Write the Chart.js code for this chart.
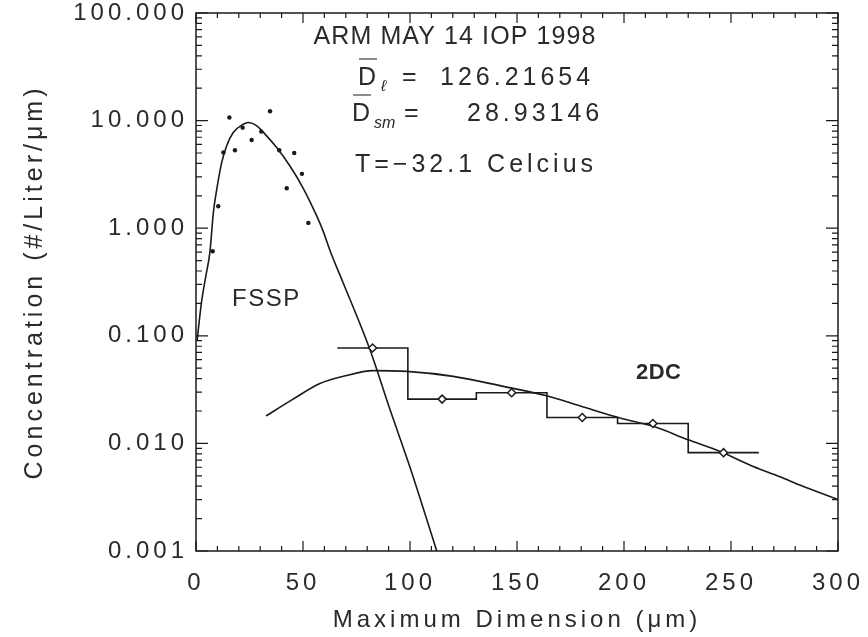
<!DOCTYPE html>
<html>
<head>
<meta charset="utf-8">
<script src="https://cdn.jsdelivr.net/npm/chart.js@4.4.0/dist/chart.umd.min.js"></script>
<style>
  html, body { margin: 0; padding: 0; background: #fff; }
  #wrap { width: 868px; height: 637px; }
</style>
</head>
<body>
<div id="wrap"><canvas id="myChart"></canvas></div>
<script>
// FSSP fitted curve
const fsspCurveX = [0.5, 2.5, 4.5, 6.5, 8.1, 9.7, 12.0, 14.3, 17.4, 22.1, 24.4, 28.4, 33.0, 37.7, 43.9, 50.1, 56.4, 59.5, 62.6, 68.8, 81.3, 90.7, 100, 112.5];
const fsspCurveY = [0.09, 0.2, 0.35, 0.6, 1.39, 2.3, 4.07, 5.81, 7.74, 9.25, 9.6, 8.93, 7.21, 5.61, 3.78, 2.35, 1.3, 0.93, 0.62, 0.31, 0.0743, 0.0205, 0.006, 0.001];

// FSSP measured points
const fsspDotX = [7.8, 10.4, 12.8, 15.6, 18.2, 21.8, 26.0, 30.5, 34.6, 38.9, 42.4, 45.9, 49.5, 52.5];
const fsspDotY = [0.61, 1.6, 5.05, 10.7, 5.3, 8.6, 6.6, 7.9, 12.2, 5.3, 2.35, 5.0, 3.2, 1.12];

// 2DC fitted curve
const dcCurveX = [32.7, 45, 57.9, 68.8, 82.9, 98.5, 120.2, 143.6, 163.9, 180, 198.1, 213.7, 230, 244.9, 260.4, 272.9, 282.2, 300];
const dcCurveY = [0.018, 0.0255, 0.036, 0.042, 0.0475, 0.0467, 0.042, 0.0339, 0.0277, 0.0221, 0.0172, 0.0144, 0.0108, 0.0084, 0.0061, 0.0049, 0.0041, 0.003];

// 2DC histogram: bin edges and concentration per bin
const dcBinEdges = [66, 99, 131, 164, 197, 230, 263];
const dcBinValues = [0.0771, 0.0258, 0.0296, 0.0174, 0.0153, 0.0082];

// axis ticks
const xTicks = [0, 50, 100, 150, 200, 250, 300];
const yTicks = [0.001, 0.01, 0.1, 1, 10, 100];

const ink = '#1a1a1a';
const textInk = '#2a2a2a';
const face = '"Liberation Sans", Arial, sans-serif';

const zip = (xs, ys) => xs.map((x, i) => ({ x: x, y: ys[i] }));
const stairs = dcBinEdges.map((e, i) => ({ x: e, y: dcBinValues[Math.min(i, dcBinValues.length - 1)] }));
const diamonds = dcBinValues.map((v, i) => ({ x: (dcBinEdges[i] + dcBinEdges[i + 1]) / 2, y: v }));

// box, inward ticks and the text notes
const frame = {
  id: 'frame',
  beforeDraw(chart) {
    chart.ctx.letterSpacing = '4px';
  },
  afterDraw(chart) {
    const ctx = chart.ctx, a = chart.chartArea;
    const xs = chart.scales.x, ys = chart.scales.y;
    ctx.save();
    ctx.strokeStyle = ink;
    ctx.lineWidth = 1.5;
    ctx.strokeRect(a.left, a.top, a.right - a.left, a.bottom - a.top);

    ctx.lineWidth = 1.2;
    ctx.beginPath();
    for (let v = xTicks[0]; v <= xTicks[xTicks.length - 1]; v += 10) {
      const px = xs.getPixelForValue(v);
      const len = v % 50 === 0 ? 10 : 5;
      ctx.moveTo(px, a.bottom); ctx.lineTo(px, a.bottom - len);
      ctx.moveTo(px, a.top); ctx.lineTo(px, a.top + len);
    }
    yTicks.forEach(d => {
      for (let k = 1; k <= 9; k++) {
        if (d * k > yTicks[yTicks.length - 1] + 1e-9) break;
        const py = ys.getPixelForValue(d * k);
        const len = k === 1 ? 12 : 6;
        ctx.moveTo(a.left, py); ctx.lineTo(a.left + len, py);
        ctx.moveTo(a.right, py); ctx.lineTo(a.right - len, py);
      }
    });
    ctx.stroke();

    ctx.fillStyle = textInk;
    ctx.textBaseline = 'middle';
    const put = (t, x, y, size, ls, style) => {
      ctx.font = (style || '') + ' ' + size + 'px ' + face;
      ctx.letterSpacing = ls + 'px';
      ctx.fillText(t, x, y);
    };
    ctx.textAlign = 'center';
    put('ARM MAY 14 IOP 1998', 455, 37, 25, 1.1);
    ctx.textAlign = 'left';
    put('D', 358, 78, 25, 0);
    put('ℓ', 381, 87, 16, 0, 'italic');
    put('=', 402, 78, 25, 0);
    put('126.21654', 440, 78, 25, 4);
    put('D', 352, 114, 25, 0);
    put('sm', 374, 124, 16, 0, 'italic');
    put('=', 404, 114, 25, 0);
    put('28.93146', 467, 114, 25, 4);
    put('T=\u221232.1 Celcius', 355, 165, 25, 4);
    put('FSSP', 232, 299, 24, 1.5);
    put('2DC', 636, 373, 22, 0.5, 'bold');

    // bars over the D's
    ctx.lineWidth = 1.2;
    ctx.beginPath();
    ctx.moveTo(359, 59); ctx.lineTo(377, 59);
    ctx.moveTo(353, 95); ctx.lineTo(371, 95);
    ctx.stroke();
    ctx.restore();
  }
};

const ctx = document.getElementById('myChart').getContext('2d');
const myChart = new Chart(ctx, {
  type: 'line',
  data: {
    datasets: [
      {
        label: '2DC bins',
        data: diamonds,
        showLine: false,
        pointStyle: 'rectRot',
        pointRadius: 4,
        pointBackgroundColor: '#fff',
        pointBorderColor: ink,
        pointBorderWidth: 1.5
      },
      {
        label: 'FSSP data',
        data: zip(fsspDotX, fsspDotY),
        showLine: false,
        pointRadius: 2.2,
        pointBackgroundColor: ink,
        pointBorderWidth: 0
      },
      {
        label: '2DC histogram',
        data: stairs,
        stepped: 'before',
        borderColor: ink,
        borderWidth: 1.6,
        pointRadius: 0,
        fill: false
      },
      {
        label: '2DC fit',
        data: zip(dcCurveX, dcCurveY),
        borderColor: ink,
        borderWidth: 1.6,
        pointRadius: 0,
        cubicInterpolationMode: 'monotone',
        fill: false
      },
      {
        label: 'FSSP fit',
        data: zip(fsspCurveX, fsspCurveY),
        borderColor: ink,
        borderWidth: 1.6,
        pointRadius: 0,
        cubicInterpolationMode: 'monotone',
        fill: false
      }
    ]
  },
  options: {
    responsive: true,
    maintainAspectRatio: false,
    animation: false,
    layout: { padding: { left: 14, right: 30, top: 13, bottom: 0 } },
    plugins: { legend: { display: false }, tooltip: { enabled: false } },
    scales: {
      x: {
        type: 'linear',
        min: 0,
        max: 300,
        afterBuildTicks: s => { s.ticks = xTicks.map(v => ({ value: v })); },
        afterFit: s => { s.height = 86; s.paddingLeft = 0; s.paddingRight = 0; },
        grid: { display: false, drawTicks: false },
        border: { display: false },
        ticks: {
          padding: 18,
          maxRotation: 0,
          autoSkip: false,
          color: textInk,
          font: { family: face, size: 24 }
        },
        title: {
          display: true,
          text: 'Maximum Dimension (\u03bcm)',
          color: textInk,
          font: { family: face, size: 24 },
          padding: { top: 0, bottom: 2 }
        }
      },
      y: {
        type: 'logarithmic',
        min: 0.001,
        max: 100,
        afterBuildTicks: s => { s.ticks = yTicks.map(v => ({ value: v })); },
        afterFit: s => { s.width = 182; s.paddingTop = 0; s.paddingBottom = 0; },
        grid: { display: false, drawTicks: false },
        border: { display: false },
        ticks: {
          padding: 8,
          autoSkip: false,
          color: textInk,
          font: { family: face, size: 24 },
          callback: v => Number(v).toFixed(3)
        },
        title: {
          display: true,
          text: 'Concentration (#/Liter/\u03bcm)',
          color: textInk,
          font: { family: face, size: 25 },
          padding: { top: 6, bottom: 0 }
        }
      }
    }
  },
  plugins: [frame]
});
</script>
</body>
</html>
